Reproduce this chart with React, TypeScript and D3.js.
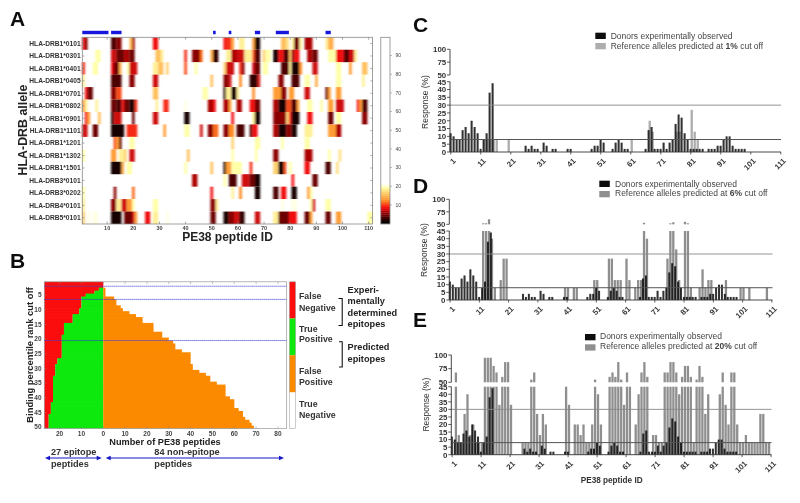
import React from "react";
import * as d3 from "d3";

// ---------- Panel A data: [first id, last id, percentile rank] runs per allele
type Run = [number, number, number];
const alleles = ["HLA-DRB1*0101","HLA-DRB1*0301","HLA-DRB1*0401","HLA-DRB1*0405","HLA-DRB1*0701","HLA-DRB1*0802","HLA-DRB1*0901","HLA-DRB1*1101","HLA-DRB1*1201","HLA-DRB1*1302","HLA-DRB1*1501","HLA-DRB3*0101","HLA-DRB3*0202","HLA-DRB4*0101","HLA-DRB5*0101"];
const drb0101: Run[] = [[1,1,8],[2,2,5],[12,13,3],[14,15,5],[19,19,15],[20,20,6],[28,29,8],[55,55,8],[56,57,9],[58,58,13],[61,62,18],[66,66,13],[67,68,1],[77,78,15],[79,79,17],[81,81,18],[82,83,4],[84,84,18],[86,88,6],[94,94,18],[95,96,14]];
const drb0301: Run[] = [[6,7,19],[12,13,7],[14,16,4],[17,18,6],[19,20,4],[29,30,15],[31,31,18],[40,40,9],[43,45,5],[46,46,11],[50,50,14],[51,52,2],[56,57,18],[58,60,6],[60,62,7],[63,65,18],[66,66,10],[67,68,3],[70,70,16],[71,72,19],[74,75,1],[76,77,8],[78,79,3],[80,80,15],[81,81,5],[82,83,8],[87,88,6],[89,90,4],[95,97,19],[98,100,8],[101,102,3],[103,104,7],[105,105,18]];
const drb0401: Run[] = [[1,1,9],[5,6,19],[12,13,8],[13,14,4],[15,15,14],[18,18,19],[19,21,7],[28,29,18],[30,31,15],[33,33,16],[40,40,10],[44,44,19],[55,55,16],[56,58,7],[61,61,9],[62,62,5],[66,66,7],[67,68,4],[70,71,19],[77,79,3],[80,80,18],[81,83,1],[84,84,12],[89,90,7],[98,99,19],[103,103,13],[108,109,15]];
const drb0405: Run[] = [[1,1,18],[12,15,3],[19,20,5],[28,29,7],[50,50,15],[55,56,5],[57,57,7],[61,61,12],[65,67,2],[68,68,7],[76,77,5],[81,83,3],[86,87,19],[90,90,14],[98,99,19],[108,108,18]];
const drb0701: Run[] = [[2,2,8],[3,4,4],[12,13,5],[14,15,10],[28,29,15],[47,48,19],[55,55,2],[56,57,18],[58,59,1],[60,60,18],[66,66,12],[74,76,13],[77,78,5],[80,81,13],[86,87,7],[94,94,4],[95,95,13],[98,99,13]];
const drb0802: Run[] = [[1,1,13],[2,2,18],[6,6,18],[12,13,4],[14,15,3],[16,16,8],[17,18,4],[19,20,1],[21,21,9],[29,29,18],[32,33,9],[40,40,20],[49,50,6],[51,51,8],[55,56,6],[57,57,13],[60,61,6],[65,66,8],[67,68,4],[74,75,6],[76,78,1],[79,80,10],[81,82,3],[83,83,13],[87,88,19],[92,92,19],[95,96,13],[98,100,7],[106,106,8],[107,107,13],[108,109,3]];
const drb0901: Run[] = [[2,2,8],[3,3,13],[7,7,15],[12,12,1],[13,15,7],[20,20,4],[28,29,7],[40,41,1],[58,58,8],[66,66,18],[67,68,1],[74,78,5],[79,79,16],[80,80,8],[81,83,1],[87,88,8],[95,96,4],[98,99,19],[108,109,5]];
const drb1101: Run[] = [[1,2,7],[5,6,4],[12,16,1],[18,21,9],[32,32,13],[40,41,19],[46,46,7],[49,50,5],[51,52,11],[55,56,5],[57,58,12],[60,62,3],[65,65,3],[66,67,8],[74,75,6],[76,78,1],[79,80,5],[81,82,1],[86,88,18],[95,97,13],[98,99,6]];
const drb1201: Run[] = [[13,13,10],[14,14,13],[15,15,4],[19,20,19],[58,58,16],[67,68,19],[77,77,19],[86,87,19]];
const drb1302: Run[] = [[1,1,19],[12,13,13],[15,16,18],[17,17,16],[19,20,7],[41,41,15],[58,58,19],[67,67,19],[74,75,5],[86,88,6],[95,95,19],[99,99,17]];
const drb1501: Run[] = [[12,15,1],[16,16,14],[18,19,19],[40,40,19],[50,50,15],[55,55,2],[56,57,13],[58,61,19],[65,65,9],[74,75,16],[76,77,1],[78,78,10],[80,80,19],[86,87,8],[94,95,3],[98,98,17]];
const drb3101: Run[] = [[43,44,6],[55,55,19],[57,59,3],[62,64,7],[65,66,4],[67,68,1],[81,81,8],[89,90,4]];
const drb3202: Run[] = [[1,1,19],[13,13,5],[20,20,11],[50,50,8],[58,58,18],[61,61,12],[67,68,1],[74,75,3],[77,78,8],[81,82,1],[87,87,13],[88,88,19]];
const drb4101: Run[] = [[1,1,18],[12,13,5],[14,15,18],[16,17,7],[18,19,13],[20,20,19],[28,29,19],[50,51,5],[52,52,18],[77,77,20],[81,82,20],[88,88,19],[89,89,7],[94,95,19]];
const drb5101: Run[] = [[1,1,16],[3,3,20],[5,6,20],[12,15,1],[17,19,4],[20,20,7],[21,21,13],[25,26,8],[28,29,18],[33,33,20],[50,51,4],[55,56,1],[57,58,5],[59,60,7],[61,62,2],[67,68,7],[74,75,18],[76,79,4],[80,82,8],[86,87,4],[88,88,13],[94,95,4],[98,99,13],[110,111,19]];
const heatRows = [drb0101,drb0301,drb0401,drb0405,drb0701,drb0802,drb0901,drb1101,drb1201,drb1302,drb1501,drb3101,drb3202,drb4101,drb5101];
const epitopeSpans: [number, number][] = [[1,10],[12,15],[51,51],[57,57],[67,68],[75,79],[94,95]];
const heatTicks = [10,20,30,40,50,60,70,80,90,100,110];

// ---------- Panel B data: peptide counts per rank cut off 1..50
const falseNegBoundary = [0,0,2,4,8,10,10,10,10,11,11,14,14,14,18,18,18,18,19,19,19,19,19,19,19,19,21,21,22,22,22,22,23,23,23,23,23,23,23,23,23,24,24,24,24,25,25,25,25,25];
const falsePosBoundary = [0,0,1,1,1,5,6,6,8,9,12,15,18,18,23,23,23,27,27,30,32,33,33,36,40,40,40,40,41,41,44,47,49,49,52,56,56,56,56,58,60,60,60,62,64,64,65,67,68,69];
const rankLines = [2, 6.5, 20.5];
const bXTicks = [-20,-10,0,10,20,30,40,50,60,70,80];
const bYTicks = [5,10,15,20,25,30,35,40,45,50];

// ---------- Panels C, D, E data
const donorResponse: [number, number][] = [[1,12],[2,10],[3,8],[4,8],[5,14],[6,16],[7,12],[8,20],[9,16],[10,12],[11,2],[12,8],[13,12],[14,38],[15,44],[26,4],[27,2],[28,4],[29,2],[30,2],[32,6],[33,4],[35,2],[36,2],[40,2],[41,2],[48,2],[49,4],[50,4],[51,8],[52,6],[55,2],[56,6],[57,8],[58,6],[59,2],[60,2],[66,2],[67,14],[68,16],[69,2],[70,2],[71,2],[72,6],[73,2],[74,6],[75,8],[76,18],[77,24],[78,22],[79,12],[80,8],[81,2],[82,2],[83,2],[84,2],[85,2],[87,2],[88,2],[89,2],[90,4],[91,4],[92,8],[93,10],[94,10],[95,4],[96,2],[97,2],[98,2],[99,2]];
const predicted1: [number, number][] = [[12,8],[13,8],[14,8],[15,8],[16,8],[20,8],[61,8],[67,20],[68,13],[76,13],[77,13],[81,27],[82,13],[83,8]];
const predicted6: [number, number][] = [[12,52],[13,52],[14,60],[15,40],[16,8],[18,13],[19,27],[20,27],[40,8],[41,8],[43,8],[44,8],[50,13],[51,13],[55,27],[56,27],[57,13],[58,13],[59,13],[61,27],[62,13],[64,8],[65,13],[66,13],[67,53],[68,40],[75,27],[76,52],[77,54],[78,33],[79,13],[81,55],[82,52],[83,8],[86,8],[87,20],[88,8],[89,13],[90,13],[95,13],[100,8],[101,8],[103,8],[109,8]];
const predicted20: [number, number][] = [[2,68],[3,13],[4,8],[5,27],[6,40],[7,13],[8,20],[9,8],[10,8],[11,8],[12,95],[13,95],[14,95],[15,80],[16,68],[17,33],[18,60],[19,87],[20,87],[21,33],[25,8],[26,8],[27,8],[28,55],[29,68],[30,27],[31,13],[32,27],[33,20],[40,46],[41,33],[43,20],[44,20],[45,13],[46,20],[47,8],[48,8],[49,20],[50,55],[51,40],[52,20],[55,60],[56,68],[57,60],[58,87],[59,55],[60,33],[61,68],[62,46],[64,20],[65,40],[66,68],[67,87],[68,60],[70,13],[71,13],[72,8],[73,8],[74,68],[75,68],[76,87],[77,87],[78,68],[79,40],[80,60],[81,80],[82,80],[83,60],[84,8],[85,55],[86,80],[87,60],[88,27],[89,40],[93,40],[94,68],[95,33],[96,20],[97,68],[98,68],[99,20],[100,8],[101,8],[102,13],[103,8],[104,8],[105,8],[106,8],[107,27],[108,27],[109,8],[110,8]];
const respLowTicks = [0,5,10,15,20,25,30,35,40,45];
const respHighTicks = [50,75,100];
const idTicks = [1,11,21,31,41,51,61,71,81,91,101,111];

const FONT = "'Liberation Sans', Arial, sans-serif";
const heatColor = d3.scaleLinear<string>().domain([0,1.5,5,8,12,16,19,20.5]).range(["#000000","#200000","#8a0000","#f00a10","#ff8a20","#ffd070","#ffffa8","#ffffff"]).clamp(true);

function HeatPanel() {
  const x = d3.scaleLinear().domain([0,111]).range([82.3,372.6]);
  const y = d3.scaleBand<number>().domain(alleles.map((_,i)=>i)).range([37.3,224]);
  const cx = (id:number)=>x(id-0.5);
  const cbar = d3.scaleLinear().domain([0,100]).range([223.6,36.9]);
  const levels = d3.range(0,21);
  return <g>
    <text x={10} y={26} fontSize={21} fontWeight="bold" fill="#111">A</text>
    {epitopeSpans.map(([a,b],i)=><rect key={i} x={x(a-1)} y={30.8} width={x(b)-x(a-1)} height={3.4} fill="#1414dc"/>)}
    <g filter="url(#heatSoft)">
      {heatRows.map((row,r)=>row.map(([a,b,v],i)=><rect key={r+"-"+i} x={x(a-1)} y={y(r)} width={x(b)-x(a-1)} height={y.bandwidth()} fill={heatColor(v)}/>))}
    </g>
    <rect x={82.3} y={37.3} width={290.3} height={186.7} fill="none" stroke="#888" strokeWidth={0.8}/>
    {heatTicks.map(t=><g key={t}>
      <line x1={cx(t)} x2={cx(t)} y1={224} y2={221.5} stroke="#777" strokeWidth={0.6}/>
      <line x1={cx(t)} x2={cx(t)} y1={37.3} y2={39.8} stroke="#777" strokeWidth={0.6}/>
      <text x={cx(t)} y={229.7} fontSize={5.5} textAnchor="middle" fill="#444" fontWeight="bold">{t}</text>
    </g>)}
    {alleles.map((a,i)=><g key={a}>
      <line x1={82.3} x2={84.5} y1={y(i)!+y.bandwidth()/2} y2={y(i)!+y.bandwidth()/2} stroke="#777" strokeWidth={0.6}/>
      <line x1={372.6} x2={370.4} y1={y(i)!+y.bandwidth()/2} y2={y(i)!+y.bandwidth()/2} stroke="#777" strokeWidth={0.6}/>
      <text x={80.6} y={y(i)!+y.bandwidth()/2+2.4} fontSize={6.65} textAnchor="end" fontWeight="bold" fill="#333">{a}</text>
    </g>)}
    <text transform="translate(26.5,130) rotate(-90)" fontSize={12.4} textAnchor="middle" fontWeight="bold" fill="#222">HLA-DRB allele</text>
    <text x={227.5} y={241} fontSize={12} textAnchor="middle" fontWeight="bold" fill="#222">PE38 peptide ID</text>
    {levels.map(v=><rect key={v} x={380.8} y={cbar(v+1)} width={9.2} height={cbar(v)-cbar(v+1)+0.3} fill={heatColor(v)}/>)}
    <rect x={380.8} y={37.3} width={9.2} height={186.7} fill="none" stroke="#888" strokeWidth={0.8}/>
    {[10,20,30,40,50,60,70,80,90].map(t=><g key={t}>
      <line x1={390} x2={392} y1={cbar(t)} y2={cbar(t)} stroke="#777" strokeWidth={0.5}/>
      <text x={395.5} y={cbar(t)+1.8} fontSize={5} fill="#444">{t}</text>
    </g>)}
  </g>;
}

function RocPanel() {
  const x = d3.scaleLinear().domain([-27,84]).range([44.3,286.7]);
  const y = d3.scaleLinear().domain([0.5,50.5]).range([281.8,428.6]);
  const ranks = d3.range(1,51);
  const legendText: [string,number][] = [["False",299.3],["Negative",310.7],["True",331.7],["Positive",342.3],["False",374.3],["Positive",385],["True",406.7],["Negative",417.7]];
  const rightText: [string,number][] = [["Experi-",292.7],["mentally",304.3],["determined",315.7],["epitopes",327.3],["Predicted",350],["epitopes",361.7]];
  const arrow = (x1:number,x2:number,key:string)=><g key={key} fill="#1414c8">
    <line x1={x1+3} x2={x2-3} y1={458} y2={458} stroke="#1414c8" strokeWidth={1.1}/>
    <path d={`M${x1} 458L${x1+5} 455.8V460.2Z`}/><path d={`M${x2} 458L${x2-5} 455.8V460.2Z`}/>
  </g>;
  const rh = y(2)-y(1);
  return <g>
    <text x={10} y={268} fontSize={21} fontWeight="bold" fill="#111">B</text>
    {ranks.map((r,i)=>{
      const h = i===49 ? rh : rh+0.7;
      return <g key={r}>
      <rect x={x(-27)} y={y(r-0.5)} width={x(-falseNegBoundary[i])-x(-27)} height={h} fill="#fb0c0c"/>
      <rect x={x(-falseNegBoundary[i])} y={y(r-0.5)} width={x(0)-x(-falseNegBoundary[i])} height={h} fill="#0be80b"/>
      <rect x={x(0)} y={y(r-0.5)} width={x(falsePosBoundary[i])-x(0)} height={h} fill="#fb8a06"/>
    </g>;})}
    <rect x={44.3} y={281.8} width={242.4} height={146.8} fill="none" stroke="#999" strokeWidth={0.7}/>
    {rankLines.map(r=><line key={r} x1={44.3} x2={286.7} y1={y(r)} y2={y(r)} stroke="#3c3cd8" strokeWidth={0.9} strokeDasharray="1.2 0.8"/>)}
    {bXTicks.map(t=><g key={t}>
      <line x1={x(t)} x2={x(t)} y1={428.6} y2={426.4} stroke="#888" strokeWidth={0.5}/>
      <line x1={x(t)} x2={x(t)} y1={281.8} y2={284} stroke="#888" strokeWidth={0.5}/>
      <text x={x(t)} y={435.8} fontSize={6.5} textAnchor="middle" fontWeight="bold" fill="#444">{Math.abs(t)}</text>
    </g>)}
    {bYTicks.map(t=><g key={t}>
      <line x1={44.3} x2={46.5} y1={y(t)} y2={y(t)} stroke="#888" strokeWidth={0.5}/>
      <text x={41.6} y={y(t)+2.3} fontSize={6.5} textAnchor="end" fontWeight="bold" fill="#444">{t}</text>
    </g>)}
    <text transform="translate(32.5,355) rotate(-90)" fontSize={9.4} textAnchor="middle" fontWeight="bold" fill="#222">Binding percentile rank cut off</text>
    <text x={165} y={444.5} fontSize={9.2} textAnchor="middle" fontWeight="bold" fill="#222">Number of PE38 peptides</text>
    <rect x={289.3} y={281.8} width={6.4} height={36.7} fill="#fb0c0c"/>
    <rect x={289.3} y={318.5} width={6.4} height={36.7} fill="#0be80b"/>
    <rect x={289.3} y={355.2} width={6.4} height={37} fill="#fb8a06"/>
    <rect x={289.3} y={281.8} width={6.4} height={146.8} fill="none" stroke="#aaa" strokeWidth={0.6}/>
    {legendText.map(([t,b],i)=><text key={i} x={299} y={b} fontSize={8.8} fontWeight="bold" fill="#333">{t}</text>)}
    {rightText.map(([t,b],i)=><text key={i} x={347.6} y={b} fontSize={9.2} fontWeight="bold" fill="#222">{t}</text>)}
    <path d="M338.5 298.5H342.2V325.5H338.5M339 341.8H342.2V367H339" fill="none" stroke="#111" strokeWidth={1.1}/>
    <text x={51} y={455} fontSize={9.2} fontWeight="bold" fill="#333">27 epitope</text>
    <text x={51} y={467} fontSize={9.2} fontWeight="bold" fill="#333">peptides</text>
    <text x={154.3} y={455} fontSize={9.2} fontWeight="bold" fill="#333">84 non-epitope</text>
    <text x={154.3} y={467} fontSize={9.2} fontWeight="bold" fill="#333">peptides</text>
    {arrow(45,101.7,"l")}{arrow(105.7,284,"r")}
  </g>;
}

type BarCfg = {
  letter:string; letterX:number; letterY:number; predicted:[number,number][]; cutoff:string; grey:string;
  x0:number; step:number; xEnd:number; y0:number; y45:number; y50:number; y100:number;
  swatchX:number; swatchY:number; textX:number; base1:number; base2:number; titleX:number; titleY:number;
};

function BarPanel(c:BarCfg) {
  const x = d3.scaleLinear().domain([1,111]).range([c.x0+0.8,c.x0+0.8+110*c.step]);
  const low = d3.scaleLinear().domain([0,45]).range([c.y0,c.y45]);
  const high = d3.scaleLinear().domain([50,100]).range([c.y50,c.y100]);
  const bars = (data:[number,number][],fill:string,dx:number,op:number,bw:number)=>data.map(([id,v])=><g key={id} fill={fill} opacity={op}>
    <rect x={x(id)-bw/2+dx} y={low(Math.min(v,45))} width={bw} height={c.y0-low(Math.min(v,45))}/>
    {v>50 && <rect x={x(id)-bw/2+dx} y={high(v)} width={bw} height={c.y50-high(v)}/>}
  </g>);
  const axis = "#333";
  return <g>
    <text x={c.letterX} y={c.letterY} fontSize={21} fontWeight="bold" fill="#111">{c.letter}</text>
    <rect x={c.swatchX} y={c.swatchY} width={10.5} height={6.3} fill="#0a0a0a"/>
    <rect x={c.swatchX} y={c.swatchY+10.3} width={10.5} height={6.3} fill={c.grey}/>
    <text x={c.textX} y={c.base1} fontSize={8.5} fill="#444">Donors experimentally observed</text>
    <text x={c.textX} y={c.base2} fontSize={8.5} fill="#444">Reference alleles predicted at <tspan fontWeight="bold">{c.cutoff}</tspan> cut off</text>
    {bars(c.predicted,c.grey,0.9,1,2.3)}
    {bars(donorResponse,"#0a0a0a",-0.2,0.85,2)}
    <line x1={c.x0} x2={c.xEnd} y1={low(30)} y2={low(30)} stroke="#888" strokeWidth={0.9}/>
    <line x1={c.x0} x2={c.xEnd} y1={low(8)} y2={low(8)} stroke="#555" strokeWidth={1}/>
    <line x1={c.x0} x2={c.x0} y1={c.y0} y2={c.y45} stroke={axis} strokeWidth={0.9}/>
    <line x1={c.x0} x2={c.x0} y1={c.y50} y2={c.y100} stroke={axis} strokeWidth={0.9}/>
    <line x1={c.x0} x2={c.xEnd} y1={c.y0} y2={c.y0} stroke={axis} strokeWidth={0.9}/>
    {respLowTicks.map(t=><g key={t}>
      <line x1={c.x0-3} x2={c.x0} y1={low(t)} y2={low(t)} stroke={axis} strokeWidth={0.8}/>
      <text x={c.x0-3.8} y={low(t)+2.8} fontSize={7.9} textAnchor="end" fontWeight="bold" fill="#333">{t}</text>
    </g>)}
    {respHighTicks.map(t=><g key={t}>
      <line x1={c.x0-3} x2={c.x0} y1={high(t)} y2={high(t)} stroke={axis} strokeWidth={0.8}/>
      <text x={c.x0-3.8} y={high(t)+2.8} fontSize={7.9} textAnchor="end" fontWeight="bold" fill="#333">{t}</text>
    </g>)}
    {idTicks.map(t=><g key={t}>
      <line x1={x(t)} x2={x(t)} y1={c.y0} y2={c.y0+2.5} stroke={axis} strokeWidth={0.8}/>
      <text transform={`translate(${x(t)+1.5},${c.y0+5.5}) rotate(-45)`} fontSize={7.8} textAnchor="end" dominantBaseline="hanging" fontWeight="bold" fill="#333">{t}</text>
    </g>)}
    <text transform={`translate(${c.x0-22},${c.y0-50}) rotate(-90)`} fontSize={8.5} textAnchor="middle" fill="#333">Response (%)</text>
    {c.titleX>0 && <text x={c.titleX} y={c.titleY} fontSize={8.2} textAnchor="middle" fontWeight="bold" fill="#333">PE38 peptide ID</text>}
  </g>;
}

export default function App() {
  return <svg width={800} height={503} viewBox="0 0 800 503" style={{position:"absolute",left:0,top:0,fontFamily:FONT}}>
    <defs>
      <filter id="soft" filterUnits="userSpaceOnUse" x={0} y={0} width={800} height={503}>
        <feGaussianBlur stdDeviation={0.4}/>
      </filter>
      <filter id="heatSoft" filterUnits="userSpaceOnUse" x={70} y={30} width={320} height={200}>
        <feGaussianBlur stdDeviation="0.9 0.3"/>
      </filter>
    </defs>
    <rect width={800} height={503} fill="#fff"/>
    <g filter="url(#soft)">
      <HeatPanel/>
      <RocPanel/>
      <BarPanel letter="C" letterX={413} letterY={31.7} predicted={predicted1} cutoff="1%" grey="#adadad"
        x0={450} step={3} xEnd={781} y0={152} y45={81.7} y50={75} y100={49.3}
        swatchX={595.3} swatchY={32.7} textX={610.7} base1={38.7} base2={49} titleX={0} titleY={0}/>
      <BarPanel letter="D" letterX={413} letterY={193} predicted={predicted6} cutoff="6%" grey="#8e8e8e"
        x0={449.3} step={2.925} xEnd={772.5} y0={300} y45={231} y50={224.3} y100={199.3}
        swatchX={599.3} swatchY={180.7} textX={615} base1={186.8} base2={196.2} titleX={0} titleY={0}/>
      <BarPanel letter="E" letterX={413} letterY={326.7} predicted={predicted20} cutoff="20%" grey="#8f8f8f"
        x0={451.3} step={2.9} xEnd={771.5} y0={454.7} y45={386.7} y50={382.3} y100={355}
        swatchX={585} swatchY={334} textX={600} base1={339.2} base2={349} titleX={611.7} titleY={482.7}/>
    </g>
  </svg>;
}
